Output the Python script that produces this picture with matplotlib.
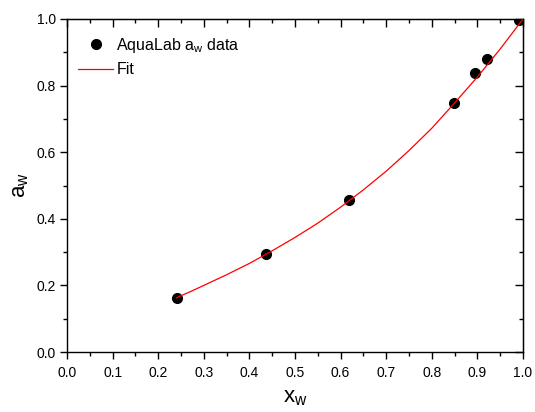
import matplotlib
matplotlib.use('Agg')
from matplotlib import pyplot as plt
from matplotlib.ticker import MultipleLocator, FormatStrFormatter

plt.rcParams['font.family'] = ['Liberation Sans', 'DejaVu Sans']
plt.rcParams['mathtext.fontset'] = 'custom'
plt.rcParams['mathtext.rm'] = 'Liberation Sans'

# AquaLab water activity measurements
x_w = [0.242, 0.437, 0.619, 0.849, 0.895, 0.922, 0.991]
a_w = [0.162, 0.295, 0.456, 0.747, 0.839, 0.880, 0.997]

# fitted curve
fit_x = [0.24, 0.27, 0.30, 0.35, 0.40, 0.45, 0.50, 0.55, 0.60, 0.65, 0.70, 0.75,
         0.80, 0.85, 0.90, 0.95, 1.00]
fit_y = [0.163, 0.181, 0.200, 0.232, 0.266, 0.304, 0.344, 0.387, 0.435, 0.487,
         0.543, 0.605, 0.672, 0.748, 0.826, 0.910, 1.000]

fig = plt.figure(figsize=(5.35, 4.12), dpi=100)
ax = fig.add_axes([0.1252, 0.1456, 0.8524, 0.8083])

ax.plot(x_w, a_w, 'o', color='black', markersize=7, label=r'AquaLab a$_\mathregular{w}$ data', zorder=3)
ax.plot(fit_x, fit_y, '-', color='red', linewidth=0.9, label='Fit', zorder=4)

ax.set_xlim(0, 1)
ax.set_ylim(0, 1)
ax.xaxis.set_major_locator(MultipleLocator(0.1))
ax.xaxis.set_minor_locator(MultipleLocator(0.05))
ax.yaxis.set_major_locator(MultipleLocator(0.2))
ax.yaxis.set_minor_locator(MultipleLocator(0.1))
ax.xaxis.set_major_formatter(FormatStrFormatter('%.1f'))
ax.yaxis.set_major_formatter(FormatStrFormatter('%.1f'))
ax.tick_params(which='major', direction='out', length=5, width=1, labelsize=10)
ax.tick_params(axis='x', which='major', pad=5)
ax.tick_params(axis='y', which='major', pad=3)
ax.tick_params(which='minor', direction='out', length=3, width=1)
for s in ax.spines.values():
    s.set_linewidth(1)

# mirrored axes on top and right with inward ticks
top = ax.secondary_xaxis('top')
top.xaxis.set_major_locator(MultipleLocator(0.1))
top.xaxis.set_minor_locator(MultipleLocator(0.05))
top.tick_params(which='major', direction='in', length=6, width=1, labeltop=False)
top.tick_params(which='minor', direction='in', length=3, width=1)
right = ax.secondary_yaxis('right')
right.yaxis.set_major_locator(MultipleLocator(0.2))
right.yaxis.set_minor_locator(MultipleLocator(0.1))
right.tick_params(which='major', direction='in', length=6, width=1, labelright=False)
right.tick_params(which='minor', direction='in', length=3, width=1)

ax.set_xlabel(r'x$_\mathregular{w}$', fontsize=16, labelpad=5)
ax.set_ylabel(r'a$_\mathregular{w}$', fontsize=16, labelpad=4)

ax.legend(loc='upper left', frameon=False, fontsize=11.5, handlelength=2.2,
          handletextpad=0.2, borderaxespad=0.0, labelspacing=0.45,
          bbox_to_anchor=(0.01, 0.968))

fig.savefig('out.png', dpi=100)
